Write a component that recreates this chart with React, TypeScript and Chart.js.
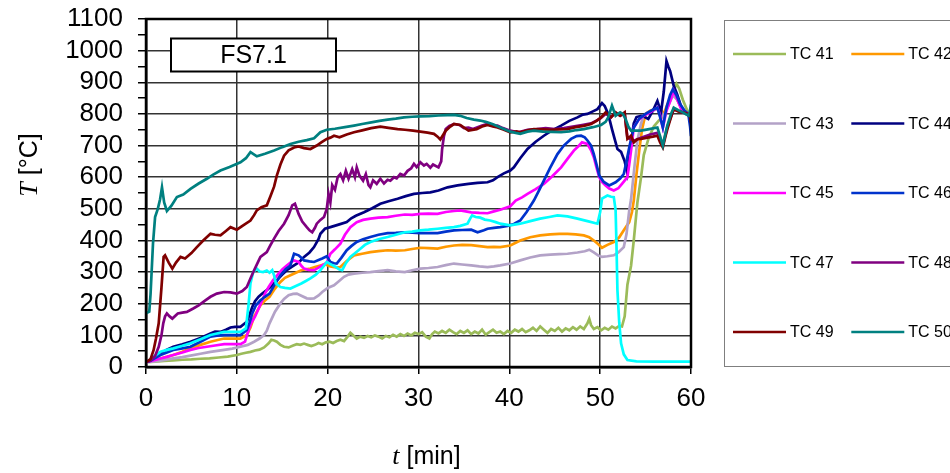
import React, { useEffect, useRef } from "react";
import { Chart, registerables } from "chart.js";

Chart.register(...registerables);

// ---------- data ----------
const SERIES_NAMES = ["TC 41", "TC 42", "TC 43", "TC 44", "TC 45", "TC 46", "TC 47", "TC 48", "TC 49", "TC 50"];
const SERIES_COLORS = ["#9BBB59", "#FF9900", "#B3A2C7", "#000080", "#FF00FF", "#0033CC", "#00FFFF", "#800080", "#800000", "#008080"];

const X_MIN = 0;
const X_MAX = 60;
const X_STEP = 10;
const Y_MIN = 0;
const Y_MAX = 1100;
const Y_STEP = 100;

const X_TITLE_ITALIC = "t";
const X_TITLE_REST = " [min]";
const Y_TITLE_ITALIC = "T";
const Y_TITLE_REST = " [°C]";
const BOX_LABEL = "FS7.1";

type P = [number, number];

const TC41: P[] = [[0,15],[1,17],[2,19],[3,21],[4,23],[5,24],[6,26],[7,27],[8,30],[9,33],[10,38],[10.5,42],[11,45],[11.5,48],[12,52],[12.5,55],[13,62],[13.5,75],[13.8,86],[14.1,84],[14.4,80],[14.8,70],[15.2,64],[15.7,62],[16.2,68],[16.6,72],[17,70],[17.4,74],[17.8,70],[18.2,66],[18.6,70],[19,76],[19.4,72],[19.8,78],[20.2,80],[20.6,76],[21,82],[21.4,86],[21.8,82],[22.2,96],[22.5,108],[22.8,100],[23.2,90],[23.6,96],[24,92],[24.4,98],[24.8,94],[25.2,100],[25.6,96],[26,90],[26.4,98],[26.8,94],[27.2,102],[27.6,96],[28,104],[28.4,98],[28.8,106],[29.2,100],[29.6,108],[30,104],[30.4,110],[30.8,96],[31.2,90],[31.5,104],[31.8,112],[32.2,106],[32.6,114],[33,108],[33.4,118],[33.8,110],[34.2,104],[34.6,114],[35,108],[35.4,116],[35.8,104],[36.2,112],[36.6,106],[37,118],[37.4,102],[37.8,110],[38.2,118],[38.6,108],[39,112],[39.4,104],[39.8,114],[40.2,108],[40.6,118],[41,112],[41.4,120],[41.8,110],[42.2,116],[42.6,124],[43,114],[43.4,128],[43.8,118],[44.2,108],[44.6,120],[45,114],[45.4,124],[45.8,112],[46.2,122],[46.6,116],[47,126],[47.4,118],[47.8,128],[48.2,120],[48.6,138],[48.8,152],[49,132],[49.3,120],[49.7,126],[50.1,116],[50.5,124],[50.9,118],[51.3,128],[51.7,122],[52.1,130],[52.4,128],[52.7,160],[53,260],[53.4,320],[53.7,400],[54.1,520],[54.5,600],[54.8,670],[55.3,720],[55.9,760],[56.5,780],[57,795],[57.5,830],[58,868],[58.4,895],[58.7,880],[59.1,845],[59.6,810],[60,795]];

const TC42: P[] = [[0,15],[0.5,18],[1,22],[1.6,27],[2.3,32],[3,38],[4,48],[4.9,59],[6,70],[7.1,80],[8,86],[8.6,90],[9.5,90],[10.4,90],[11.1,101],[11.5,125],[11.9,159],[12.3,180],[12.6,195],[13.1,210],[13.6,222],[14.2,248],[14.8,269],[15.3,282],[15.9,290],[16.5,298],[17.1,306],[17.6,309],[18.1,311],[18.6,316],[19.2,321],[19.7,325],[20.3,318],[20.9,315],[21.4,316],[22.1,335],[22.9,353],[23.8,358],[24.7,363],[25.6,366],[26.6,369],[27.5,368],[28.5,369],[29.3,373],[30.2,377],[31.1,376],[32.1,374],[33,380],[33.9,384],[34.8,386],[35.8,385],[36.7,382],[37.6,379],[38.3,380],[39,379],[40.1,384],[41.2,400],[42.3,410],[43.4,416],[44.5,419],[45.5,421],[46.4,421],[47.3,419],[48.2,416],[48.8,410],[49.3,400],[49.8,388],[50.2,377],[50.8,386],[51.5,395],[52.1,410],[52.6,432],[53.2,458],[53.5,490],[53.7,526],[54,610],[54.3,684],[54.6,750],[55,800],[55.5,810],[56,815],[56.5,822],[57,800],[57.4,830],[58,862],[58.4,850],[59,815],[59.5,800],[60,790]];

const TC43: P[] = [[0,15],[1,18],[1.6,20],[3,27],[4,31],[4.9,36],[6,42],[7.1,48],[8.6,54],[9.5,58],[10.4,64],[11.2,70],[11.9,80],[12.5,90],[13,101],[13.3,115],[13.6,138],[14.2,175],[14.8,201],[15.2,215],[15.7,227],[16.2,231],[16.6,232],[17.1,225],[17.7,217],[18.1,216],[18.5,217],[19,226],[19.4,237],[20,250],[20.7,258],[21.2,270],[21.8,285],[22.3,292],[22.9,295],[23.8,298],[24.7,300],[25.6,303],[26.6,306],[27.5,302],[28.5,300],[29.3,306],[30.2,311],[31.1,313],[32.1,316],[33,322],[33.9,327],[34.8,324],[35.8,321],[36.7,318],[37.6,316],[38.3,318],[39,321],[40.1,327],[41.2,337],[42.3,346],[43.4,353],[44.5,355],[45.5,357],[46.4,358],[47.5,362],[48.3,366],[48.8,371],[49.3,362],[49.8,352],[50.2,348],[50.8,350],[51.5,353],[52,362],[52.6,379],[52.9,420],[53.2,495],[53.4,530],[53.8,640],[54.1,716],[54.5,770],[54.8,794],[55.3,805],[56,812],[56.5,818],[57,790],[57.4,820],[58,858],[58.5,845],[59,815],[59.5,800],[60,790]];

const TC44: P[] = [[0,15],[0.5,22],[1,32],[1.6,43],[2.3,55],[3,64],[4,72],[4.9,80],[6,92],[7.1,106],[7.6,112],[8.2,111],[8.8,118],[9.3,125],[9.8,127],[10.4,127],[11.1,143],[11.4,165],[11.7,190],[12,208],[12.4,222],[12.8,232],[13.3,243],[13.9,258],[14.4,274],[15,292],[15.5,306],[16,316],[16.6,327],[17,336],[17.4,348],[18,362],[18.5,379],[19,405],[19.2,421],[19.7,437],[20.3,442],[21.2,450],[22.1,458],[22.6,470],[23.1,478],[24,489],[24.9,502],[25.8,516],[26.7,524],[27.7,532],[28.6,540],[29.5,547],[30.4,550],[31.3,552],[32.2,558],[33.2,568],[34.3,574],[35.5,579],[36.5,582],[37.6,584],[38.2,590],[38.7,600],[39.4,612],[40.1,621],[40.5,631],[41.2,660],[42,689],[42.9,712],[43.8,731],[44.7,748],[45.7,763],[46.6,778],[47.5,789],[48.1,798],[48.6,800],[49.2,808],[49.7,815],[50.2,834],[50.5,825],[50.8,805],[51.1,775],[51.3,752],[51.6,720],[51.9,689],[52.3,680],[52.7,650],[53,612],[53.2,660],[53.4,710],[53.7,770],[54,790],[54.5,794],[54.9,790],[55.3,784],[55.8,810],[56.3,841],[56.7,805],[57,870],[57.3,967],[57.5,950],[57.7,936],[58.1,889],[58.5,860],[59,815],[59.5,800],[60,790]];

const TC45: P[] = [[0,15],[0.5,18],[1,22],[1.6,27],[2.3,32],[3,38],[4,46],[4.9,54],[5.8,60],[6.7,64],[7.6,68],[8.6,72],[9.5,72],[10.4,72],[10.9,80],[11.3,117],[11.6,140],[12,159],[12.4,185],[12.8,211],[13.1,232],[13.5,253],[14,275],[14.6,295],[15,308],[15.5,321],[15.9,330],[16.3,337],[16.8,332],[17.1,320],[17.4,311],[17.9,307],[18.5,306],[19,314],[19.4,321],[19.9,330],[20.3,358],[20.8,372],[21.4,390],[21.9,418],[22.5,442],[23.2,458],[23.9,465],[24.7,469],[25.6,472],[26.6,474],[27.5,478],[28.5,482],[29.3,481],[30.2,484],[31.1,485],[32.1,484],[33,490],[33.9,493],[34.6,495],[35.8,489],[36.7,487],[37.6,486],[38.3,492],[39,497],[40.1,508],[40.7,526],[41.4,536],[42,547],[42.9,562],[43.8,579],[44.7,602],[45.7,631],[46.4,658],[47.1,684],[47.6,698],[48,710],[48.6,705],[49,685],[49.3,663],[49.6,630],[49.9,600],[50.2,585],[50.6,574],[51,564],[51.5,558],[52,565],[52.4,579],[53,600],[53.2,640],[53.4,684],[53.7,757],[54.2,780],[54.8,794],[55.5,805],[56.3,820],[56.6,795],[56.9,757],[57.3,810],[57.7,840],[58.1,873],[58.5,845],[59,810],[59.5,800],[60,794]];

const TC46: P[] = [[0,15],[0.5,20],[1,28],[1.6,38],[2.3,46],[3,54],[4,59],[4.9,64],[6,80],[7.1,96],[7.8,99],[8.6,101],[9.5,101],[10.4,101],[11.1,117],[11.4,140],[11.7,169],[12.1,195],[12.6,211],[13.1,222],[13.6,232],[14.2,262],[14.8,290],[15.4,310],[15.9,321],[16.1,340],[16.3,358],[16.8,353],[17.1,345],[17.4,337],[18,334],[18.5,332],[19,338],[19.4,343],[19.9,350],[20.3,332],[20.7,328],[21,327],[21.5,345],[22.1,369],[22.6,382],[23.2,395],[23.9,404],[24.7,411],[25.6,418],[26.6,423],[27.5,424],[28.5,426],[29.3,425],[30.2,423],[31.1,423],[32.1,423],[33,428],[33.9,432],[34.8,433],[35.8,434],[36.5,426],[37.2,432],[37.6,437],[38.3,440],[39,442],[39.8,446],[40.5,452],[41.2,463],[41.9,490],[42.7,526],[43.3,560],[43.8,589],[44.5,630],[45.3,673],[46,700],[46.8,721],[47.4,730],[47.9,731],[48.3,726],[48.6,716],[49,700],[49.3,673],[49.6,640],[49.9,605],[50.4,585],[51,574],[51.7,584],[52.2,596],[52.6,610],[52.9,650],[53.2,694],[53.7,757],[54.3,785],[55,800],[55.6,810],[56.3,820],[56.6,790],[56.9,757],[57.3,820],[57.7,860],[58,878],[58.4,860],[58.8,831],[59.3,810],[59.7,800],[59.9,760],[60,730]];

const TC47: P[] = [[0,15],[0.5,24],[1,36],[1.6,48],[2.3,54],[3,59],[4,67],[4.9,75],[6,88],[7.1,101],[7.8,106],[8.6,111],[9.5,111],[10.4,111],[11,122],[11.3,200],[11.5,264],[11.8,300],[12.2,311],[12.5,302],[12.9,300],[13.3,305],[13.6,298],[13.9,306],[14.1,290],[14.3,264],[14.8,253],[15.3,250],[15.9,248],[16.5,256],[17.1,264],[17.6,272],[18.1,280],[18.7,292],[19.2,306],[19.6,320],[19.9,332],[20.3,325],[20.9,316],[21.3,308],[21.6,306],[22,328],[22.5,348],[23.1,362],[23.6,374],[24.1,386],[24.7,395],[25.6,404],[26.6,411],[27.5,418],[28.5,426],[29.3,428],[30.2,432],[31.1,434],[32.1,437],[33,440],[33.9,442],[34.6,446],[35.4,453],[35.7,470],[35.9,479],[36.3,474],[36.8,472],[37.3,466],[37.9,463],[38.5,458],[39,453],[40.1,448],[41.2,453],[42.3,461],[43.4,469],[44.4,474],[45.3,479],[46.4,476],[47.5,469],[48.6,461],[49.7,453],[50,490],[50.2,532],[50.8,542],[51.2,538],[51.5,537],[51.7,495],[51.8,380],[51.9,243],[52.1,140],[52.3,75],[52.6,40],[53,22],[54,18],[56,17],[58,17],[60,17]];

const TC48: P[] = [[0,15],[0.5,20],[1,35],[1.4,64],[1.7,100],[1.9,138],[2.1,160],[2.3,169],[2.6,160],[2.9,153],[3.5,169],[4,172],[4.5,174],[5.2,185],[5.8,195],[6.5,210],[7.1,222],[7.8,232],[8.6,237],[9.3,236],[10,232],[10.6,240],[11.1,253],[11.5,280],[11.9,306],[12.3,330],[12.6,348],[13.3,363],[13.7,385],[14.1,406],[14.6,430],[15.2,453],[15.7,480],[16.1,511],[16.4,516],[16.8,484],[17.2,460],[17.7,442],[18,432],[18.3,426],[18.6,440],[18.8,453],[19.2,465],[19.6,474],[19.9,500],[20.1,547],[20.3,520],[20.5,575],[20.8,560],[21.1,600],[21.4,610],[21.7,590],[22,620],[22.3,595],[22.7,625],[23,600],[23.2,631],[23.5,605],[23.9,589],[24.2,610],[24.5,575],[24.7,568],[25,590],[25.4,579],[25.8,595],[26.2,580],[26.6,592],[26.9,589],[27.3,600],[27.6,596],[28,610],[28.4,605],[28.8,620],[29.2,628],[29.5,642],[29.8,632],[30.2,647],[30.6,637],[30.9,642],[31.3,630],[31.6,640],[32.2,631],[32.5,650],[32.6,689],[32.8,730],[33,752],[33.4,762],[33.9,768],[34.5,765],[35,755],[35.5,757],[36,752],[36.5,758],[37,763],[37.6,768],[38.2,762],[38.7,763],[39.3,755],[40.1,747],[41,742],[42,750],[43,752],[44,755],[45,752],[46,755],[47,760],[48,765],[49,770],[50,785],[50.6,800],[51.2,790],[51.7,803],[52.2,795],[52.7,800],[53,725],[53.7,715],[54.5,725],[55.5,735],[56.3,740],[56.9,700],[57.4,760],[58.1,815],[59,805],[60,800]];

const TC49: P[] = [[0,15],[0.5,25],[0.84,54],[1.1,90],[1.4,138],[1.7,250],[1.94,348],[2.1,353],[2.5,330],[2.9,311],[3.3,330],[3.8,348],[4.3,343],[5,360],[5.6,379],[6.3,400],[7.1,421],[7.6,418],[8.2,416],[8.8,430],[9.3,442],[10,434],[10.7,448],[11.5,463],[11.9,480],[12.2,495],[12.7,505],[13.3,511],[13.7,540],[14.1,570],[14.4,605],[14.8,640],[15.2,668],[15.7,685],[16.3,694],[16.8,697],[17.4,692],[18.1,689],[18.8,700],[19.3,710],[19.9,721],[20.3,725],[20.7,731],[21.3,726],[22.1,735],[22.9,742],[23.8,748],[24.8,755],[25.8,760],[26.7,756],[27.7,752],[28.5,750],[29.4,747],[30.2,744],[31,741],[31.7,737],[32.1,728],[32.4,719],[33,747],[33.5,760],[33.9,768],[34.6,765],[35.5,747],[36.4,752],[37,760],[37.6,765],[38.2,760],[38.7,757],[39.4,750],[40.1,742],[40.8,745],[41.2,742],[42,748],[42.7,752],[43.7,751],[44.6,750],[45.5,751],[46.4,752],[47.3,758],[48.2,762],[49,768],[49.6,778],[50.1,789],[50.6,805],[51.2,789],[51.7,805],[52.2,794],[52.7,805],[52.85,760],[53,721],[53.4,731],[53.7,710],[54.1,720],[54.5,721],[55.2,725],[55.8,728],[56.3,731],[56.6,710],[56.9,694],[57.2,730],[57.4,752],[57.8,790],[58.1,815],[58.6,808],[59.1,805],[59.6,800],[59.9,790],[60,770]];

const TC50: P[] = [[0,170],[0.36,175],[0.5,230],[0.77,390],[1,474],[1.3,500],[1.55,530],[1.76,568],[2,520],[2.3,493],[2.8,510],[3.4,537],[4.1,545],[4.9,563],[5.8,580],[6.7,595],[7.4,608],[8.2,621],[9.2,632],[10.4,647],[11,660],[11.5,679],[12.2,666],[13.1,674],[14.1,684],[15,695],[15.9,705],[16.8,712],[17.7,717],[18.5,723],[19.2,742],[19.9,750],[20.8,753],[21.9,758],[22.9,763],[23.8,768],[24.8,773],[25.7,778],[26.6,782],[27.5,785],[28.4,789],[29.3,791],[30.2,792],[31.2,793],[32.2,795],[33.2,796],[33.9,797],[34.6,794],[35.3,787],[36.1,782],[36.8,779],[37.4,775],[38.2,767],[39,757],[39.6,750],[40.1,744],[40.7,740],[41.2,737],[42,744],[42.7,747],[43.7,744],[44.7,743],[45.7,742],[46.6,745],[47.4,749],[48.2,752],[49.2,758],[50.1,765],[50.6,775],[50.9,790],[51.3,826],[51.7,794],[52.2,805],[52.5,800],[52.8,784],[53.1,760],[53.4,747],[54,747],[54.5,747],[55.4,752],[56.3,757],[56.6,730],[56.9,700],[57.2,740],[57.4,764],[57.8,800],[58.1,820],[58.6,812],[59.1,805],[59.5,798],[59.8,794],[60,830]];

const SERIES_DATA: P[][] = [TC41, TC42, TC43, TC44, TC45, TC46, TC47, TC48, TC49, TC50];

// ---------- fonts ----------
const SANS = '"Liberation Sans", Arial, sans-serif';
const SERIF = '"Liberation Serif", "Times New Roman", serif';

// ---------- custom drawing plugin ----------
const decorPlugin = {
  id: "decor",
  afterDatasetsDraw(chart: any) {
    const { ctx, chartArea } = chart;
    const { left, top, right, bottom } = chartArea;
    ctx.save();
    // plot frame
    ctx.strokeStyle = "#000";
    ctx.lineWidth = 2.5;
    ctx.strokeRect(left, top, right - left, bottom - top);

    // label box
    const bx = left + 25, by = top + 19.5, bw = 165, bh = 33;
    ctx.fillStyle = "#fff";
    ctx.fillRect(bx, by, bw, bh);
    ctx.lineWidth = 2;
    ctx.strokeRect(bx, by, bw, bh);
    ctx.fillStyle = "#000";
    ctx.font = `25px ${SANS}`;
    ctx.textAlign = "center";
    ctx.textBaseline = "middle";
    ctx.fillText(BOX_LABEL, bx + bw / 2, by + bh / 2 + 1);
    ctx.restore();
  },
  afterDraw(chart: any) {
    const { ctx, chartArea } = chart;
    ctx.save();
    ctx.fillStyle = "#000";
    ctx.textBaseline = "middle";

    // x-axis title
    {
      ctx.font = `italic 26px ${SERIF}`;
      const w1 = ctx.measureText(X_TITLE_ITALIC).width;
      ctx.font = `25px ${SANS}`;
      const w2 = ctx.measureText(X_TITLE_REST).width;
      const cx = (chartArea.left + chartArea.right) / 2 + 8;
      const x0 = cx - (w1 + w2) / 2;
      const y = 457;
      ctx.textAlign = "left";
      ctx.font = `italic 26px ${SERIF}`;
      ctx.fillText(X_TITLE_ITALIC, x0, y);
      ctx.font = `25px ${SANS}`;
      ctx.fillText(X_TITLE_REST, x0 + w1, y);
    }
    // y-axis title
    {
      ctx.translate(30, 165);
      ctx.rotate(-Math.PI / 2);
      ctx.font = `italic 26px ${SERIF}`;
      const w1 = ctx.measureText(Y_TITLE_ITALIC).width;
      ctx.font = `25px ${SANS}`;
      const w2 = ctx.measureText(Y_TITLE_REST).width;
      const x0 = -(w1 + w2) / 2;
      ctx.textAlign = "left";
      ctx.font = `italic 26px ${SERIF}`;
      ctx.fillText(Y_TITLE_ITALIC, x0, 0);
      ctx.font = `25px ${SANS}`;
      ctx.fillText(Y_TITLE_REST, x0 + w1, 0);
      ctx.setTransform(1, 0, 0, 1, 0, 0);
    }
    ctx.restore();

    // legend
    ctx.save();
    const lx = 724.5, ly = 20.5, lw = 280, lh = 346;
    ctx.strokeStyle = "#7f7f7f";
    ctx.lineWidth = 1;
    ctx.strokeRect(lx, ly, lw, lh);
    ctx.font = `16px ${SANS}`;
    ctx.textAlign = "left";
    ctx.textBaseline = "middle";
    chart.data.datasets.forEach((ds: any, i: number) => {
      const col = i % 2;
      const row = Math.floor(i / 2);
      const x0 = 733 + col * 118.3;
      const y0 = 54 + row * 69.5;
      ctx.strokeStyle = ds.borderColor;
      ctx.lineWidth = 2.5;
      ctx.beginPath();
      ctx.moveTo(x0, y0);
      ctx.lineTo(x0 + 53, y0);
      ctx.stroke();
      ctx.fillStyle = "#000";
      ctx.fillText(ds.label, x0 + 57, y0 + 1);
    });
    ctx.restore();
  },
};

export default function App() {
  const canvasRef = useRef<HTMLCanvasElement | null>(null);

  useEffect(() => {
    if (!canvasRef.current) return;
    const datasets = SERIES_DATA.map((pts, i) => ({
      label: SERIES_NAMES[i],
      data: pts.map(([x, y]) => ({ x, y })),
      borderColor: SERIES_COLORS[i],
      backgroundColor: SERIES_COLORS[i],
      borderWidth: 2.7,
      pointRadius: 0,
      tension: 0,
      fill: false,
      order: SERIES_DATA.length - i,
    }));

    const chart = new Chart(canvasRef.current, {
      type: "line",
      data: { datasets },
      options: {
        animation: false,
        responsive: true,
        maintainAspectRatio: false,
        devicePixelRatio: 1,
        layout: { padding: { left: 0, right: 259, top: 19, bottom: 0 } },
        plugins: {
          legend: { display: false },
          tooltip: { enabled: false },
          title: { display: false },
        },
        scales: {
          x: {
            type: "linear",
            min: X_MIN,
            max: X_MAX,
            afterFit: (scale: any) => {
              scale.height = 106;
              scale.paddingLeft = 0;
              scale.paddingRight = 0;
            },
            ticks: {
              stepSize: X_STEP,
              autoSkip: false,
              maxRotation: 0,
              padding: 9,
              color: "#000",
              font: { family: SANS, size: 26 },
            },
            grid: {
              color: "#333",
              lineWidth: 1.5,
              tickLength: 7,
              tickColor: "#000",
              tickWidth: 1.5,
            },
            border: { display: true, color: "#000", width: 2.5 },
          },
          y: {
            type: "linear",
            min: Y_MIN,
            max: Y_MAX,
            afterFit: (scale: any) => {
              scale.width = 146;
              scale.paddingTop = 0;
              scale.paddingBottom = 0;
            },
            ticks: {
              stepSize: Y_STEP / 2,
              autoSkip: false,
              padding: 15,
              color: "#000",
              font: { family: SANS, size: 26 },
              callback: (v: any) => (Number(v) % Y_STEP === 0 ? String(v) : ""),
            },
            grid: {
              color: (c: any) => (c.tick && c.tick.value % Y_STEP === 0 ? "#333" : "rgba(0,0,0,0)"),
              lineWidth: 1.5,
              tickLength: 8,
              tickColor: "#000",
              tickWidth: 1.5,
            },
            border: { display: true, color: "#000", width: 2.5 },
          },
        },
      },
      plugins: [decorPlugin],
    });

    return () => chart.destroy();
  }, []);

  return (
    <div style={{ position: "absolute", left: 0, top: 0, width: 950, height: 473, background: "#fff" }}>
      <canvas ref={canvasRef} />
    </div>
  );
}
